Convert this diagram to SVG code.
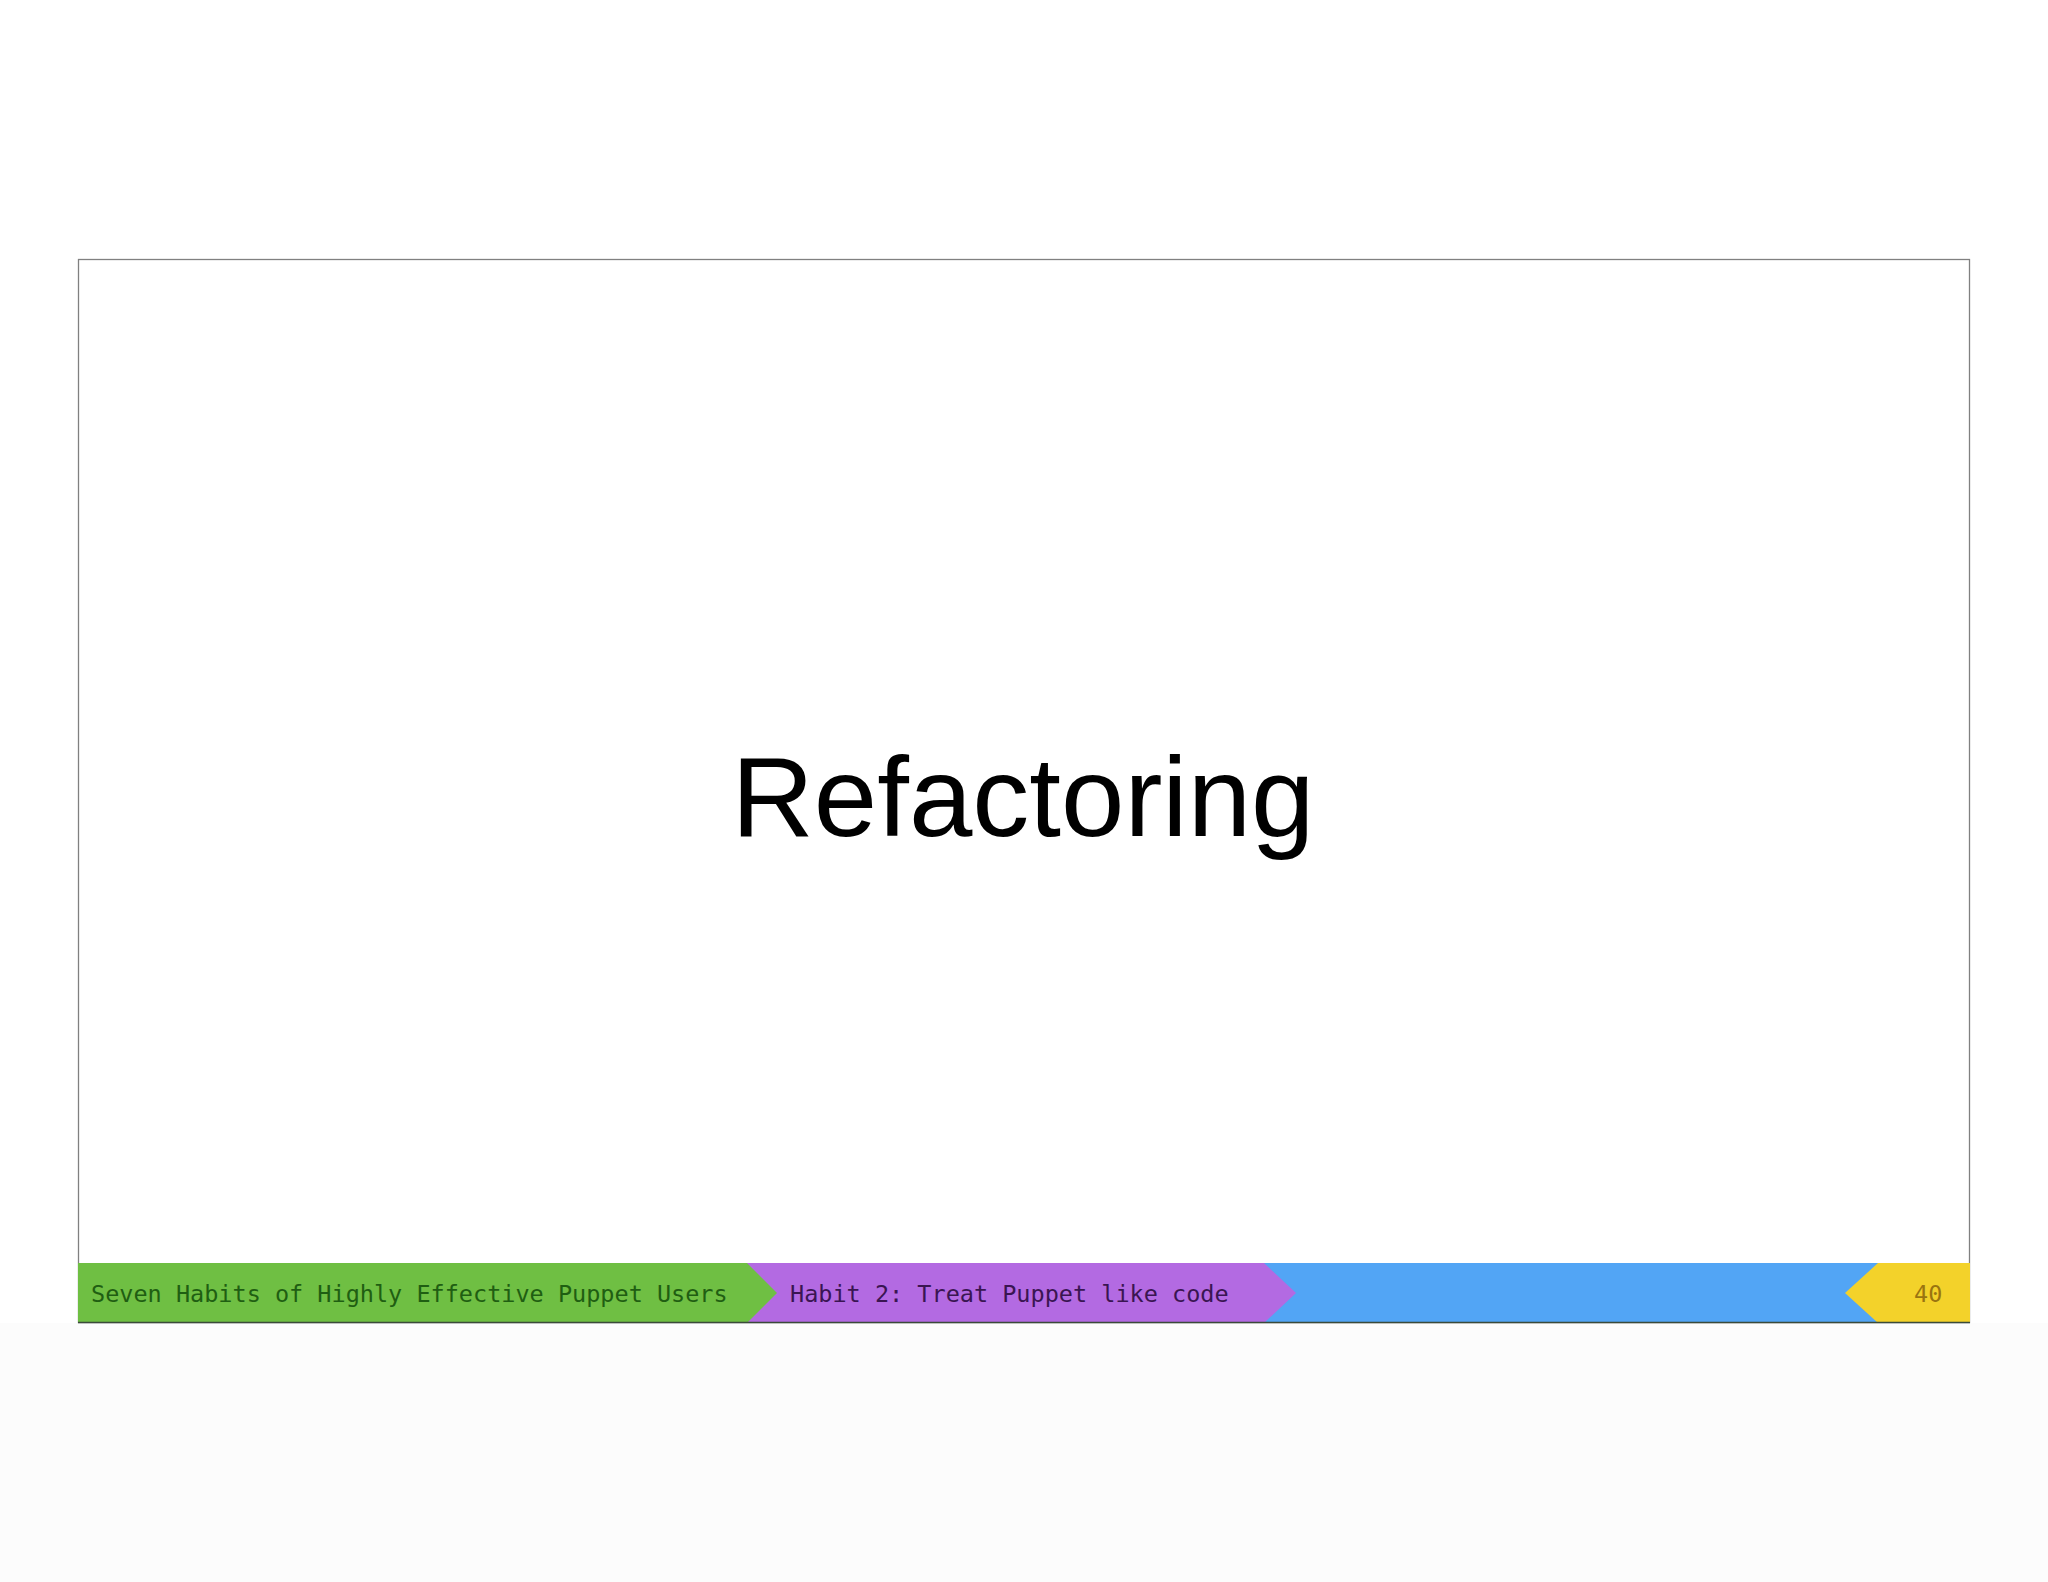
<svg xmlns="http://www.w3.org/2000/svg" width="2048" height="1582" viewBox="0 0 2048 1582">
<style>
.ft{font-family:"DejaVu Sans Mono","Liberation Mono",monospace;font-size:23.5px}
</style>
<rect width="2048" height="1582" fill="#fcfcfc"/>
<rect x="0" y="0" width="2048" height="1323" fill="#ffffff"/>
<g id="frame"><rect x="78.5" y="259.5" width="1891" height="1063" fill="#ffffff" stroke="#808080" stroke-width="1.3"/></g>
<g id="title"><text x="1023" y="836" text-anchor="middle" font-family="'Helvetica Neue','Liberation Sans',Arial,sans-serif" font-weight="300" font-size="114" fill="#000">Refactoring</text></g>
<g id="footer">
<rect x="78" y="1263" width="1892" height="60" fill="#52a5f5"/>
<polygon points="1878,1263 1970,1263 1970,1323 1878,1323 1845,1293" fill="#f3d22a"/>
<polygon points="747,1263 1264,1263 1296,1293 1264,1323 747,1323" fill="#b36ae2"/>
<polygon points="78,1263 747,1263 777,1293 747,1323 78,1323" fill="#6fbf43"/>
<line x1="78" y1="1322.5" x2="1970" y2="1322.5" stroke="#3a4a3a" stroke-width="1.5"/>
<text class="ft" x="91" y="1302" fill="#1f5e12">Seven Habits of Highly Effective Puppet Users</text>
<text class="ft" x="790" y="1302" fill="#3a1552">Habit 2: Treat Puppet like code</text>
<text class="ft" x="1914" y="1302" fill="#9a7410">40</text>
</g>
</svg>
